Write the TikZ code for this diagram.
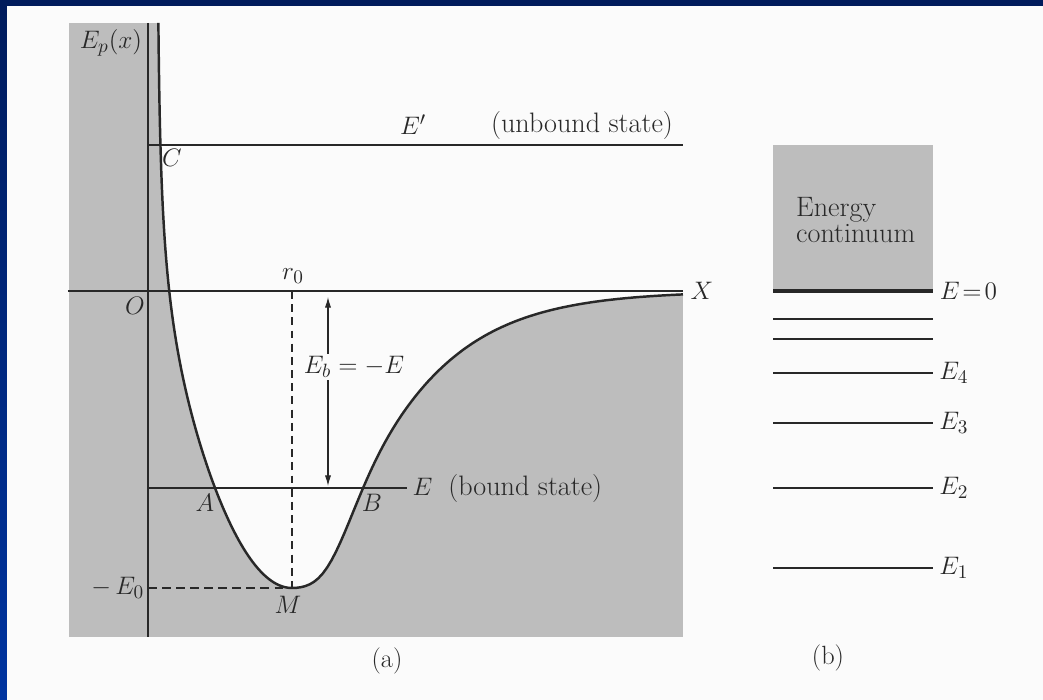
\documentclass[tikz,border=0pt]{standalone}
\usetikzlibrary{positioning}
\usetikzlibrary{calc}
\usetikzlibrary{arrows.meta}
\definecolor{navy}{RGB}{0,27,92}
\definecolor{frameblue}{RGB}{0,52,160}
\definecolor{page}{RGB}{251,251,251}
\definecolor{shadegray}{RGB}{189,189,189}
\definecolor{ink}{RGB}{40,40,40}
% left wall (by height) and right branch (Morse-like) of the well
\newcommand{\wellcurve}{plot[domain=3.362:0, samples=80, variable=\pp] ({2.88-1.09*\pp/(1+(1.09*\pp/2.7)^8)^0.125}, {\pp*\pp-5.94}) -- plot[domain=0:7.82, samples=90, variable=\qq] ({2.88+\qq}, {5.94*((1-exp(-0.66*\qq+0.37*\qq*exp(-\qq*\qq)))^2-1)})}

\begin{document}
\begin{tikzpicture}[font=\fontsize{15}{18}\selectfont, ink,
    booktext/.style={font=\fontsize{16}{19}\selectfont}]
    \useasboundingbox (-2.96,-8.18) rectangle (17.9,5.82);
    % slide frame
    \fill[page] (-2.96,-8.18) rectangle (17.9,5.82);
    \shade[top color=navy, bottom color=frameblue] (-2.96,-8.18) rectangle (-2.82,5.82);
    \fill[navy] (-2.96,5.7) rectangle (17.9,5.82);

    % (a) potential energy curve
    \fill[shadegray] (-1.58,-6.92) rectangle (10.7,5.36);
    \fill[page] \wellcurve -- (10.7,5.36) -- cycle;

    \coordinate (O) at (0,0);
    \coordinate (xstart) at (-1.6,0);
    \coordinate (xend) at (10.7,0);
    \coordinate (ytop) at (0,5.36);
    \coordinate (ybot) at (0,-6.92);
    \coordinate (M) at (2.88,-5.94);
    \coordinate (r0) at (2.88,0);
    \coordinate (E0) at (0,-5.94);

    \draw[thick] (xstart) -- (xend) node[right, inner sep=4pt] (xlab) {$X$};
    \draw[thick] (ytop) -- (ybot);
    \draw[line width=1.4pt, line join=round] \wellcurve;

    \draw[thick] (0,2.92) coordinate (C) -- (10.7,2.92) coordinate (Eprime);
    \draw[thick] (0,-3.94) coordinate (Aleft) -- (5.18,-3.94) coordinate (Eright);
    \draw[thick, dash pattern=on 4.5pt off 3pt] (r0) -- (M);
    \draw[thick, dash pattern=on 5pt off 3pt] (E0) -- (M);

    \coordinate (arrtop) at (3.6,-0.12);
    \coordinate (arrbot) at (3.6,-3.9);
    \draw[semithick, {Latex[length=6pt,width=3.5pt]}-{Latex[length=6pt,width=3.5pt]}] (arrtop) -- (arrbot);
    \node[fill=page, inner sep=1pt] (Eb) at (4.12,-1.52) {$E_b=-E$};

    \node (Eplab) at (-0.74,4.96) {$E_p(x)$};
    \node (Clab) at (0.48,2.66) {$C$};
    \node (Olab) at (-0.26,-0.3) {$O$};
    \node (r0lab) at (2.9,0.3) {$r_0$};
    \node (Alab) at (1.14,-4.24) {$A$};
    \node (Blab) at (4.48,-4.24) {$B$};
    \node (Mlab) at (2.8,-6.28) {$M$};
    \node[left, inner sep=2pt] (E0lab) at (E0) {$-\,E_0$};
    \node (Eplabel) at (5.3,3.32) {$E'$};
    \node[booktext] (unbound) at (8.68,3.32) {(unbound state)};
    \node[right, inner sep=3pt] (bound) at (Eright) {$E$~~{\fontsize{16}{19}\selectfont(bound state)}};
    \node (capa) at (4.78,-7.4) {(a)};

    % (b) energy levels
    \fill[shadegray] (12.5,0) rectangle (15.7,2.92);
    \node[align=left, anchor=west, booktext] (cont) at (12.84,1.42) {Energy\\[-4pt]continuum};
    \draw[line width=1.8pt] (12.5,0) -- (15.7,0) node[right, inner sep=3pt] (Ezero) {$E\!=\!0$};
    \foreach \y in {-0.56,-0.96}
        \draw[line width=1.3pt] (12.5,\y) -- (15.7,\y);
    \foreach \y/\n in {-1.64/4, -2.64/3, -3.94/2, -5.54/1}
        \draw[line width=1.3pt] (12.5,\y) -- (15.7,\y) node[right, inner sep=3pt] (E\n lab) {$E_{\n}$};
    \node (capb) at (13.6,-7.34) {(b)};
\end{tikzpicture}
\end{document}
